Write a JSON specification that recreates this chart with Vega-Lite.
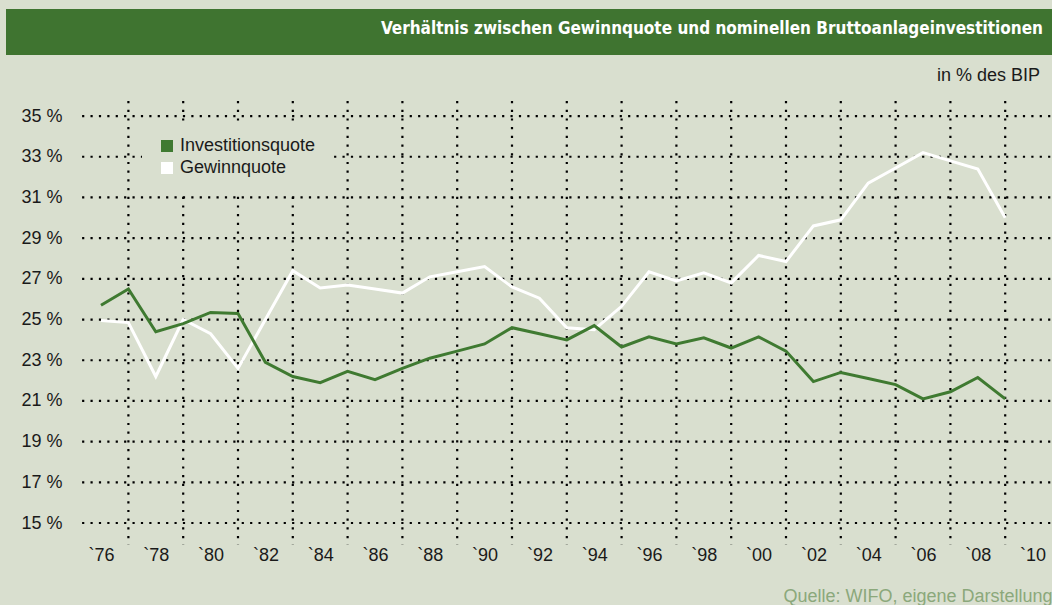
{
  "$schema": "https://vega.github.io/schema/vega-lite/v6.json",
  "background": "#d9dfcf",
  "padding": {"left": 6, "top": 9, "right": 0, "bottom": 0},
  "config": {
    "view": {"stroke": null},
    "font": "Liberation Sans"
  },
  "spacing": 11,
  "vconcat": [
    {
      "width": 1046,
      "height": 46,
      "view": {"fill": "#3f7430", "stroke": null},
      "data": {"values": [{"label": "Verhältnis zwischen Gewinnquote und nominellen Bruttoanlageinvestitionen"}]},
      "mark": {"type": "text", "align": "right", "baseline": "middle", "dx": -9, "dy": -3, "color": "#ffffff",
        "font": "DejaVu Sans Condensed, Liberation Sans Narrow, sans-serif", "fontSize": 17, "fontWeight": "bold"},
      "encoding": {
        "text": {"field": "label", "type": "nominal"},
        "x": {"datum": 1, "type": "quantitative", "scale": {"domain": [0, 1], "nice": false, "zero": false}, "axis": null}
      }
    },
    {
      "width": 1046,
      "height": 444,
      "view": {"fill": null, "stroke": null},
      "title": {
        "text": "in % des BIP",
        "anchor": "end",
        "orient": "top",
        "frame": "group",
        "offset": 6,
        "baseline": "middle",
        "dx": -12,
        "color": "#1a1a1a",
        "font": "Liberation Sans",
        "fontSize": 18,
        "fontWeight": "normal"
      },
      "layer": [
        {
          "data": {"values": [{"v": 15}, {"v": 17}, {"v": 19}, {"v": 21}, {"v": 23}, {"v": 25}, {"v": 27}, {"v": 29}, {"v": 31}, {"v": 33}, {"v": 35}]},
          "mark": {"type": "rule", "color": "#000000", "strokeWidth": 2.2, "strokeDash": [2.2, 6.2]},
          "encoding": {
            "y": {"field": "v", "type": "quantitative", "scale": {"domain": [13.92, 35.74], "nice": false, "zero": false},
              "axis": {"values": [15, 17, 19, 21, 23, 25, 27, 29, 31, 33, 35], "labelExpr": "datum.value + ' %'", "title": null, "grid": false, "domain": false, "ticks": false, "tickSize": 0, "labelPadding": -56, "labelAlign": "right", "labelBaseline": "middle", "labelFontSize": 18, "labelColor": "#1a1a1a", "labelFont": "Liberation Sans", "labelFlush": false, "labelOverlap": false}},
            "x": {"datum": 1975.31, "type": "quantitative"},
            "x2": {"datum": 2010.708}
          }
        },
        {
          "data": {"values": [{"yr": 1977}, {"yr": 1979}, {"yr": 1981}, {"yr": 1983}, {"yr": 1985}, {"yr": 1987}, {"yr": 1989}, {"yr": 1991}, {"yr": 1993}, {"yr": 1995}, {"yr": 1997}, {"yr": 1999}, {"yr": 2001}, {"yr": 2003}, {"yr": 2005}, {"yr": 2007}, {"yr": 2009}]},
          "mark": {"type": "rule", "color": "#000000", "strokeWidth": 2.2, "strokeDash": [2.2, 6.5]},
          "encoding": {
            "x": {"field": "yr", "type": "quantitative"}
          }
        },
        {
          "data": {"values": [
            {"year": 1976, "series": "Gewinnquote", "value": 24.95},
            {"year": 1977, "series": "Gewinnquote", "value": 24.85},
            {"year": 1978, "series": "Gewinnquote", "value": 22.2},
            {"year": 1979, "series": "Gewinnquote", "value": 25.0},
            {"year": 1980, "series": "Gewinnquote", "value": 24.3},
            {"year": 1981, "series": "Gewinnquote", "value": 22.6},
            {"year": 1982, "series": "Gewinnquote", "value": 25.0},
            {"year": 1983, "series": "Gewinnquote", "value": 27.4},
            {"year": 1984, "series": "Gewinnquote", "value": 26.55},
            {"year": 1985, "series": "Gewinnquote", "value": 26.7},
            {"year": 1986, "series": "Gewinnquote", "value": 26.5},
            {"year": 1987, "series": "Gewinnquote", "value": 26.3},
            {"year": 1988, "series": "Gewinnquote", "value": 27.1},
            {"year": 1989, "series": "Gewinnquote", "value": 27.35},
            {"year": 1990, "series": "Gewinnquote", "value": 27.6},
            {"year": 1991, "series": "Gewinnquote", "value": 26.6},
            {"year": 1992, "series": "Gewinnquote", "value": 26.05},
            {"year": 1993, "series": "Gewinnquote", "value": 24.6},
            {"year": 1994, "series": "Gewinnquote", "value": 24.5},
            {"year": 1995, "series": "Gewinnquote", "value": 25.65},
            {"year": 1996, "series": "Gewinnquote", "value": 27.35},
            {"year": 1997, "series": "Gewinnquote", "value": 26.9},
            {"year": 1998, "series": "Gewinnquote", "value": 27.3},
            {"year": 1999, "series": "Gewinnquote", "value": 26.8},
            {"year": 2000, "series": "Gewinnquote", "value": 28.15},
            {"year": 2001, "series": "Gewinnquote", "value": 27.85},
            {"year": 2002, "series": "Gewinnquote", "value": 29.6},
            {"year": 2003, "series": "Gewinnquote", "value": 29.9},
            {"year": 2004, "series": "Gewinnquote", "value": 31.7},
            {"year": 2005, "series": "Gewinnquote", "value": 32.45},
            {"year": 2006, "series": "Gewinnquote", "value": 33.2},
            {"year": 2007, "series": "Gewinnquote", "value": 32.8},
            {"year": 2008, "series": "Gewinnquote", "value": 32.4},
            {"year": 2009, "series": "Gewinnquote", "value": 30.0},
            {"year": 1976, "series": "Investitionsquote", "value": 25.7},
            {"year": 1977, "series": "Investitionsquote", "value": 26.5},
            {"year": 1978, "series": "Investitionsquote", "value": 24.4},
            {"year": 1979, "series": "Investitionsquote", "value": 24.8},
            {"year": 1980, "series": "Investitionsquote", "value": 25.35},
            {"year": 1981, "series": "Investitionsquote", "value": 25.3},
            {"year": 1982, "series": "Investitionsquote", "value": 22.9},
            {"year": 1983, "series": "Investitionsquote", "value": 22.2},
            {"year": 1984, "series": "Investitionsquote", "value": 21.9},
            {"year": 1985, "series": "Investitionsquote", "value": 22.45},
            {"year": 1986, "series": "Investitionsquote", "value": 22.05},
            {"year": 1987, "series": "Investitionsquote", "value": 22.6},
            {"year": 1988, "series": "Investitionsquote", "value": 23.1},
            {"year": 1989, "series": "Investitionsquote", "value": 23.45},
            {"year": 1990, "series": "Investitionsquote", "value": 23.8},
            {"year": 1991, "series": "Investitionsquote", "value": 24.6},
            {"year": 1992, "series": "Investitionsquote", "value": 24.3},
            {"year": 1993, "series": "Investitionsquote", "value": 24.0},
            {"year": 1994, "series": "Investitionsquote", "value": 24.7},
            {"year": 1995, "series": "Investitionsquote", "value": 23.65},
            {"year": 1996, "series": "Investitionsquote", "value": 24.15},
            {"year": 1997, "series": "Investitionsquote", "value": 23.8},
            {"year": 1998, "series": "Investitionsquote", "value": 24.1},
            {"year": 1999, "series": "Investitionsquote", "value": 23.6},
            {"year": 2000, "series": "Investitionsquote", "value": 24.15},
            {"year": 2001, "series": "Investitionsquote", "value": 23.45},
            {"year": 2002, "series": "Investitionsquote", "value": 21.95},
            {"year": 2003, "series": "Investitionsquote", "value": 22.4},
            {"year": 2004, "series": "Investitionsquote", "value": 22.1},
            {"year": 2005, "series": "Investitionsquote", "value": 21.8},
            {"year": 2006, "series": "Investitionsquote", "value": 21.1},
            {"year": 2007, "series": "Investitionsquote", "value": 21.45},
            {"year": 2008, "series": "Investitionsquote", "value": 22.15},
            {"year": 2009, "series": "Investitionsquote", "value": 21.1}
          ]},
          "mark": {"type": "line", "strokeWidth": 3, "strokeJoin": "miter"},
          "encoding": {
            "x": {"field": "year", "type": "quantitative",
              "scale": {"domain": [1972.533, 2010.708], "nice": false, "zero": false},
              "axis": {"values": [1976, 1978, 1980, 1982, 1984, 1986, 1988, 1990, 1992, 1994, 1996, 1998, 2000, 2002, 2004, 2006, 2008, 2010],
                "labelExpr": "'`' + slice(toString(datum.value), 2)",
                "grid": false, "domain": false, "ticks": false, "tickSize": 0,
                "labelPadding": 1, "labelFontSize": 18, "labelColor": "#1a1a1a", "labelFont": "Liberation Sans",
                "labelFlush": false, "labelOverlap": false,
                "title": "Quelle: WIFO, eigene Darstellung", "titleAnchor": "end", "titleColor": "#8ba87b",
                "titleFontSize": 18, "titleFontWeight": "normal", "titleFont": "Liberation Sans", "titlePadding": 23}},
            "y": {"field": "value", "type": "quantitative"},
            "color": {"field": "series", "type": "nominal",
              "scale": {"domain": ["Investitionsquote", "Gewinnquote"], "range": ["#3f7a31", "#ffffff"]},
              "legend": {"title": null, "orient": "none", "legendX": 136, "legendY": 112, "padding": 16,
                "fillColor": "#d9dfcf", "strokeColor": null,
                "symbolType": "square", "symbolSize": 144, "labelFontSize": 18, "labelFont": "Liberation Sans",
                "labelColor": "#1a1a1a", "labelOffset": 4, "rowPadding": 4,
                "encode": {"symbols": {"update": {"fill": {"scale": "color", "field": "value"}, "strokeWidth": {"value": 0}}}}}},
            "order": {"field": "series", "type": "nominal"}
          }
        }
      ]
    }
  ]
}
